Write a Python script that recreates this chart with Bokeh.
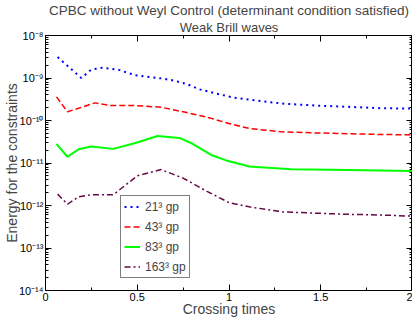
from bokeh.plotting import figure
from bokeh.models import (LinearAxis, LogAxis, Title, Legend, LegendItem,
                          CustomJSTickFormatter, FixedTicker, LogTicker, Range1d)
from bokeh.embed import file_html
from bokeh.resources import INLINE

FONT = "Liberation Sans"

# ---- data ----
t_21 = [0.066, 0.195, 0.25, 0.31, 0.40, 0.49, 0.63, 0.70, 0.77, 0.84, 0.93, 1.02, 1.11, 1.29, 1.47, 1.65, 1.82, 2.0]
e_21 = [3.1e-9, 1.0e-9, 1.58e-9, 1.75e-9, 1.55e-9, 1.16e-9, 0.98e-9, 8.7e-10, 7.2e-10, 5.4e-10, 4.3e-10, 3.5e-10,
        3.1e-10, 2.5e-10, 2.25e-10, 2.1e-10, 1.95e-10, 1.9e-10]

t_43 = [0.06, 0.12, 0.27, 0.35, 0.49, 0.63, 0.75, 0.88, 1.0, 1.11, 1.29, 1.47, 1.82, 2.0]
e_43 = [3.6e-10, 1.6e-10, 2.6e-10, 2.25e-10, 2.25e-10, 2.05e-10, 1.6e-10, 1.2e-10, 8.5e-11, 6.5e-11, 5.4e-11,
        5.1e-11, 4.7e-11, 4.6e-11]

t_83 = [0.06, 0.12, 0.18, 0.25, 0.37, 0.49, 0.61, 0.73, 0.79, 0.91, 0.985, 1.075, 1.11, 1.34, 1.65, 2.0]
e_83 = [2.8e-11, 1.4e-11, 2.1e-11, 2.45e-11, 2.15e-11, 2.95e-11, 4.3e-11, 3.9e-11, 3.0e-11, 1.5e-11, 1.15e-11,
        9.1e-12, 8.3e-12, 7.1e-12, 6.8e-12, 6.5e-12]

t_163 = [0.066, 0.12, 0.18, 0.25, 0.37, 0.50, 0.63, 0.75, 0.88, 1.0, 1.11, 1.29, 1.47, 1.65, 1.82, 2.0]
e_163 = [1.85e-12, 1.07e-12, 1.6e-12, 1.78e-12, 1.8e-12, 5.0e-12, 7.0e-12, 4.4e-12, 2.15e-12, 1.17e-12, 9.3e-13,
         7.1e-13, 6.6e-13, 6.2e-13, 6.0e-13, 5.6e-13]

labels = ["21\u00b3 gp", "43\u00b3 gp", "83\u00b3 gp", "163\u00b3 gp"]
x_ticks = [0, 0.5, 1, 1.5, 2]
x_tick_labels = ["0", "0.5", "1", "1.5", "2"]

p = figure(width=412, height=319, y_axis_type="log",
           x_range=Range1d(0, 2), y_range=Range1d(1e-14, 1e-8),
           output_backend="svg", toolbar_location=None,
           min_border_left=35, min_border_right=0, min_border_top=32, min_border_bottom=0,
           x_axis_location=None, y_axis_location=None)
p.background_fill_color = "white"
p.border_fill_color = "white"
p.outline_line_color = "black"
p.outline_line_width = 1
p.xgrid.visible = False
p.ygrid.visible = False

sup_js = """
const sup = {'-':'\u207b','0':'\u2070','1':'\u00b9','2':'\u00b2','3':'\u00b3','4':'\u2074',
             '5':'\u2075','6':'\u2076','7':'\u2077','8':'\u2078','9':'\u2079'};
const e = Math.round(Math.log10(tick));
return '10' + String(e).split('').map(c => sup[c]).join('');
"""

def style_axis(ax, show_labels):
    ax.axis_line_color = "black"
    ax.major_tick_in = 6
    ax.major_tick_out = 0
    ax.minor_tick_in = 3
    ax.minor_tick_out = 0
    ax.major_tick_line_color = "black"
    ax.minor_tick_line_color = "black"
    ax.major_label_text_font = FONT
    ax.major_label_text_font_size = "11px"
    ax.major_label_text_color = "black"
    if not show_labels:
        ax.major_label_text_font_size = "0px"
        ax.major_label_standoff = 0

xfmt = CustomJSTickFormatter(args=dict(t=x_ticks, l=x_tick_labels),
                             code="const i = t.indexOf(tick); return i >= 0 ? l[i] : '';")
empty = CustomJSTickFormatter(code="return '';")

xb = LinearAxis(ticker=FixedTicker(ticks=x_ticks, minor_ticks=[0.25, 0.75, 1.25, 1.75]), formatter=xfmt)
style_axis(xb, True)
xb.major_label_standoff = 2
xb.axis_label = "Crossing times"
xb.axis_label_text_font = FONT
xb.axis_label_text_font_size = "14px"
xb.axis_label_text_font_style = "normal"
xb.axis_label_standoff = -3
p.add_layout(xb, "below")

xt = LinearAxis(ticker=FixedTicker(ticks=x_ticks, minor_ticks=[0.25, 0.75, 1.25, 1.75]), formatter=empty)
style_axis(xt, False)
p.add_layout(xt, "above")

yl = LogAxis(ticker=LogTicker(num_minor_ticks=10), formatter=CustomJSTickFormatter(code=sup_js))
style_axis(yl, True)
yl.major_label_standoff = 2
yl.axis_label = "Energy for the constraints"
yl.axis_label_text_font = FONT
yl.axis_label_text_font_size = "14px"
yl.axis_label_text_font_style = "normal"
yl.axis_label_standoff = -4
p.add_layout(yl, "left")

yr = LogAxis(ticker=LogTicker(num_minor_ticks=10), formatter=empty)
style_axis(yr, False)
p.add_layout(yr, "right")

sub = Title(text="Weak Brill waves", align="center", text_font=FONT, text_font_size="13px",
            text_font_style="normal", standoff=1, offset=0)
p.add_layout(sub, "above")
p.title.text = "CPBC without Weyl Control (determinant condition satisfied)"
p.title.align = "center"
p.title.text_font = FONT
p.title.text_font_size = "13.5px"
p.title.text_font_style = "normal"
p.title.standoff = 0

r1 = p.line(t_21, e_21, line_color="#0000ff", line_width=2, line_dash="2 4")
r2 = p.line(t_43, e_43, line_color="#ff0000", line_width=1.5, line_dash="6 3")
r3 = p.line(t_83, e_83, line_color="#00ff00", line_width=2)
r4 = p.line(t_163, e_163, line_color="#670748", line_width=1.5, line_dash="6 3 2 3")

legend = Legend(items=[LegendItem(label=labels[0], renderers=[r1]),
                       LegendItem(label=labels[1], renderers=[r2]),
                       LegendItem(label=labels[2], renderers=[r3]),
                       LegendItem(label=labels[3], renderers=[r4])],
                location=(75, 12))
legend.label_text_font = FONT
legend.label_text_font_size = "12px"
legend.glyph_width = 16
legend.glyph_height = 15
legend.label_height = 15
legend.spacing = 5
legend.padding = 3
legend.margin = 0
legend.border_line_color = "black"
legend.border_line_width = 1
legend.background_fill_alpha = 1
p.add_layout(legend, "center")

open("out.html", "w").write(file_html(p, INLINE))
